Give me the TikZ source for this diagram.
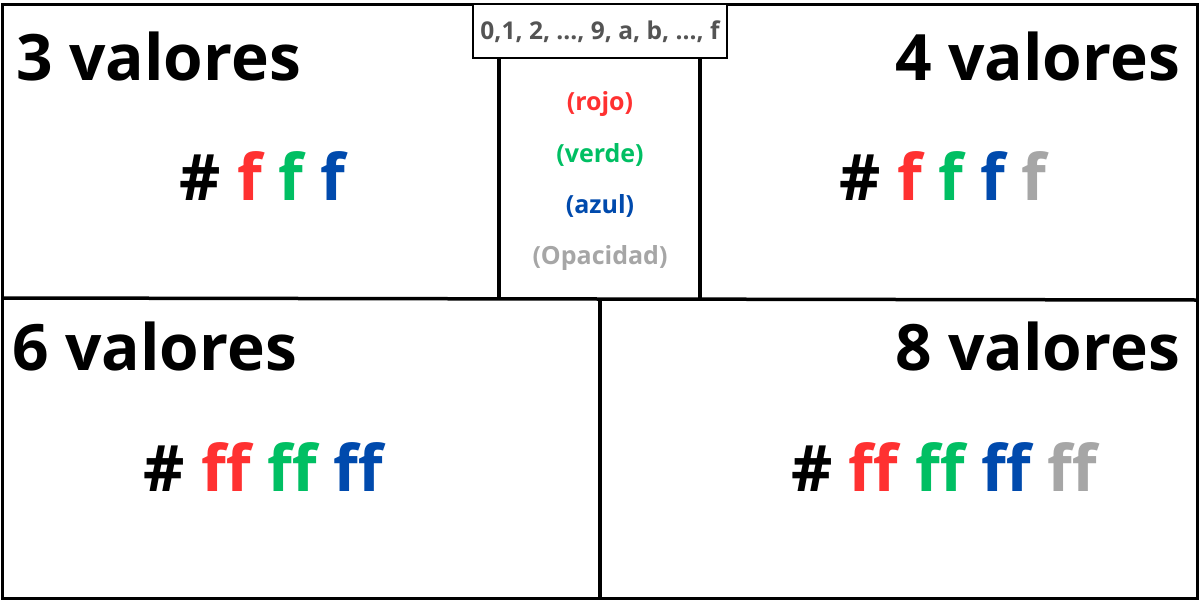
\documentclass[tikz,border=0pt]{standalone}
\usepackage{fontspec}
\setmainfont{Open Sans}
\definecolor{rojo}{HTML}{FF3131}
\definecolor{verde}{HTML}{00BF63}
\definecolor{azul}{HTML}{004AAD}
\definecolor{opaco}{HTML}{A6A6A6}
\definecolor{gristexto}{HTML}{545454}
\begin{document}
\begin{tikzpicture}[x=1pt,y=-1pt,
        titulo/.style={inner sep=0pt,font=\fontsize{64}{64}\selectfont\bfseries},
        hexa/.style={inner sep=0pt,anchor=base,font=\fontsize{64}{64}\selectfont\bfseries},
        canal/.style={inner sep=0pt,anchor=base,font=\fontsize{25}{25}\selectfont\bfseries},
        linea/.style={line width=3.5pt}]
        \fill[white] (0,0) rectangle (1200,600);
        \useasboundingbox (0,0) rectangle (1200,600);
        % marco y divisiones
        \draw[linea] (2.5,4.5) rectangle (1197.5,598.5);
        \draw[linea] (2.5,298) -- (1197.5,300);
        \draw[linea] (499,58) -- (499,297);
        \draw[linea] (700,58) -- (700,298);
        \draw[linea] (600,299) -- (600,598.5);
        \draw[line width=2pt,fill=white] (473,4) rectangle (727,58);
        \node[canal,font=\fontsize{24.5}{24.5}\selectfont\bfseries,text=gristexto] (digitos) at (600,39) {0,1, 2, ..., 9, a, b, ..., f};
        % canales
        \node[canal,text=rojo] (rojo) at (600,110) {(rojo)};
        \node[canal,text=verde] (verde) at (600,162) {(verde)};
        \node[canal,text=azul] (azul) at (600,213) {(azul)};
        \node[canal,text=opaco] (opacidad) at (600,264) {(Opacidad)};
        % titulos
        \node[titulo,anchor=base west] (tres) at (16,80) {3 valores};
        \node[titulo,anchor=base east] (cuatro) at (1180,80) {4 valores};
        \node[titulo,anchor=base west] (seis) at (12,370) {6 valores};
        \node[titulo,anchor=base east] (ocho) at (1180,370) {8 valores};
        % codigos
        \node[hexa] (hextres) at (262,200) {\# \textcolor{rojo}{f} \textcolor{verde}{f} \textcolor{azul}{f}};
        \node[hexa] (hexcuatro) at (943,200) {\# \textcolor{rojo}{f} \textcolor{verde}{f} \textcolor{azul}{f} \textcolor{opaco}{f}};
        \node[hexa] (hexseis) at (263,491) {\# \textcolor{rojo}{ff} \textcolor{verde}{ff} \textcolor{azul}{ff}};
        \node[hexa] (hexocho) at (944,491) {\# \textcolor{rojo}{ff} \textcolor{verde}{ff} \textcolor{azul}{ff} \textcolor{opaco}{ff}};
\end{tikzpicture}
\end{document}
